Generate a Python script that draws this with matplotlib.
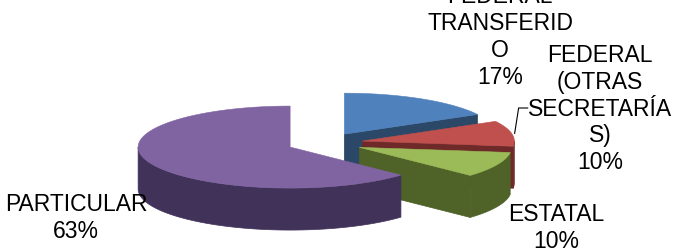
import matplotlib.pyplot as plt
import numpy as np
from matplotlib.patches import Polygon

plt.rcParams['font.family'] = ['Liberation Sans', 'DejaVu Sans']

# データ
labels = ['FEDERAL\nTRANSFERID\nO', 'FEDERAL\n(OTRAS\nSECRETARÍA\nS)', 'ESTATAL', 'PARTICULAR']
shares = [17, 10, 10, 63]
top_colors = ['#4F81BD', '#C0504D', '#9BBB59', '#8064A2']
side_colors = ['#2B4868', '#6E2A29', '#4F6228', '#41325A']

# ラベル位置（中心）
label_pos = [(500, 37), (600, 109), (556, 228), (76, 218)]

# 3D円グラフの形
cx, cy = 325, 143
rx, ry = 152, 41
depth = 42
explode = 0.25

fig = plt.figure(figsize=(6.77, 2.5), dpi=100)
ax = fig.add_axes([0, 0, 1, 1])
ax.set_xlim(0, 677)
ax.set_ylim(250, 0)
ax.axis('off')

fracs = np.array(shares) / np.sum(shares)
bounds = np.concatenate([[0], np.cumsum(fracs)]) * 2 * np.pi

walls = []   # (奥行きキー, ポリゴン, 色)
tops = []
centers = []
for i in range(len(shares)):
    t1, t2 = bounds[i], bounds[i + 1]
    tm = (t1 + t2) / 2
    ox, oy = explode * np.sin(tm), -explode * np.cos(tm)
    sx, sy = cx + rx * ox, cy + ry * oy
    centers.append((sx, sy, tm))

    def p(t, z=0):
        return (sx + rx * np.sin(t), sy - ry * np.cos(t) + z)

    # 上面
    ts = np.linspace(t1, t2, 120)
    tops.append(([(sx, sy)] + [p(t) for t in ts], top_colors[i]))

    # 外側の側面（手前側のみ）
    a = max(t1, np.pi / 2)
    b = min(t2, 3 * np.pi / 2)
    if b > a:
        ts = np.linspace(a, b, 150)
        poly = [p(t) for t in ts] + [p(t, depth) for t in ts[::-1]]
        key = oy + np.max(-np.cos(ts))
        walls.append((key, poly, side_colors[i]))

    # 切り口の面
    for t, vis in [(t2, np.sin(t2) > 1e-6), (t1, np.sin(t1) < -1e-6)]:
        if vis:
            poly = [(sx, sy), p(t), p(t, depth), (sx, sy + depth)]
            walls.append((oy - np.cos(t) / 2, poly, side_colors[i]))

walls.sort(key=lambda w: w[0])
for _, poly, col in walls:
    ax.add_patch(Polygon(poly, closed=True, facecolor=col, edgecolor=col, linewidth=0.5))
for poly, col in tops:
    ax.add_patch(Polygon(poly, closed=True, facecolor=col, edgecolor=col, linewidth=0.4))

# ラベル
for i, (lab, pos) in enumerate(zip(labels, label_pos)):
    ax.text(pos[0], pos[1], f'{lab}\n{shares[i]}%', ha='center', va='center',
            fontsize=16.5, linespacing=1.21, color='black')

# 引き出し線（FEDERAL (OTRAS SECRETARÍAS)）
sx, sy, tm = centers[1]
ax0 = sx + rx * np.sin(tm)
ay0 = sy - ry * np.cos(tm)
ax.plot([ax0 + 3, ax0 + 7, ax0 + 16], [ay0, 108, 108], color='black', linewidth=0.8)

fig.savefig('out.png', dpi=100)
